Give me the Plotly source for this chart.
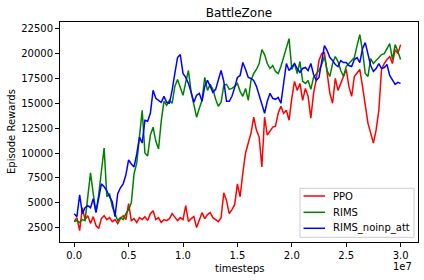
import plotly.graph_objects as go

# x grid: logged every 250k timesteps, 0 .. 3.0e7
timesteps = [i * 250_000 for i in range(121)]

ppo = [3100, 3500, 2200, 4500, 3300, 3700, 2900, 3600, 2700, 2400,
       3400, 3700, 3300, 3500, 3100, 3300, 2900, 3400, 3700, 3300,
       4900, 3200, 3400, 3000, 3500, 3300, 3600, 3200, 3900, 4200,
       3300, 3500, 3000, 3300, 3200, 3400, 3900, 3500, 3200, 3500,
       3300, 4700, 3100, 3400, 3600, 2500, 3300, 4000, 3400, 3800,
       4000, 3500, 3300, 3100, 3500, 6000, 5200, 3900, 4300, 4800,
       6900, 5600, 8000, 10000, 11000, 12000, 13600, 12300, 11600, 8600,
       13600, 11800, 12200, 12600, 12700, 14000, 14700, 14000, 14300, 13300,
       15500, 17200, 16300, 17000, 15300, 16500, 15700, 13500, 16000, 17400,
       19300, 20000, 20100, 18300, 16000, 15000, 17500, 16300, 17000, 17500,
       18400, 16700, 15700, 17700, 18000, 18400, 16700, 15000, 13000, 12000,
       11000, 12300, 14300, 18400, 19000, 19400, 19700, 19000, 20400, 20000,
       20900]

rims = [3100, 3200, 3000, 3300, 3200, 5500, 8000, 5900, 4100, 5800,
        8200, 10500, 5600, 5900, 4600, 3900, 3200, 3500, 3300, 3900,
        4300, 5000, 7900, 9000, 11500, 14300, 10000, 9700, 11800, 12600,
        11200, 10400, 13200, 15200, 14800, 15300, 15000, 16700, 17400, 16500,
        15800, 17100, 18300, 16100, 14800, 13600, 14500, 15300, 17600, 16300,
        16900, 16400, 15400, 14700, 15100, 16800, 16900, 16400, 16500, 16700,
        17000, 16200, 15700, 16500, 15300, 17300, 18000, 18400, 19000, 20400,
        19900, 19000, 18500, 18800, 18200, 18000, 18700, 19600, 20600, 21500,
        18400, 19000, 18000, 19200, 17200, 17000, 17300, 16400, 17600, 18000,
        18300, 18900, 19700, 18300, 17700, 19000, 19700, 19200, 18300, 17700,
        18700, 19000, 19300, 19600, 20800, 21900, 20300, 18000, 17700, 19500,
        19000, 19300, 19700, 19900, 20000, 20500, 21000, 19400, 20900, 20200,
        19400]

rims_noinp_att = [3900, 3600, 5800, 3900, 4500, 4700, 4500, 5400, 4000, 5300,
                  6900, 6600, 6200, 5600, 5100, 3600, 5900, 6500, 6900, 7800,
                  9300, 8900, 8600, 9900, 11600, 11000, 13300, 13200, 14000, 16300,
                  15500, 15300, 15100, 15700, 15100, 15000, 16300, 18000, 19600, 19900,
                  18000, 17600, 17000, 16100, 15100, 15800, 16000, 15200, 16700, 17300,
                  16600, 16100, 16400, 17400, 18300, 17200, 15200, 15200, 15700, 16600,
                  17600, 17800, 19100, 18400, 17600, 17500, 17300, 16700, 15900, 14900,
                  14000, 15200, 16000, 15500, 15400, 15600, 15000, 17200, 19000, 18300,
                  18600, 19000, 18500, 18100, 18500, 18600, 18300, 19000, 17900, 17300,
                  17600, 19300, 20800, 20300, 19600, 19300, 18900, 18700, 19300, 19100,
                  19100, 18800, 18700, 19400, 19600, 19100, 20500, 21100, 20000, 18800,
                  18200, 18500, 19000, 18500, 18600, 18900, 17800, 17300, 16900, 17100,
                  17000]

series_names = ["PPO", "RIMS", "RIMS_noinp_att"]
series_colors = ["#ff0000", "#008000", "#0000ff"]

x_tickvals = [0, 5_000_000, 10_000_000, 15_000_000, 20_000_000, 25_000_000, 30_000_000]
x_ticktext = ["0.0", "0.5", "1.0", "1.5", "2.0", "2.5", "3.0"]
y_tickvals = [2500, 5000, 7500, 10000, 12500, 15000, 17500, 20000, 22500]
y_ticktext = [str(v) for v in y_tickvals]

FONT = "DejaVu Sans"

# plot-area geometry in pixels (for converting legend placement to paper coords)
W, H = 424, 280
L, R, T, B = 60, 6, 22, 38
PW, PH = W - L - R, H - T - B


def px(xp):
    return (xp - L) / PW


def py(yp):
    return (H - B - yp) / PH


fig = go.Figure()
for name, ys, col in zip(series_names, [ppo, rims, rims_noinp_att], series_colors):
    fig.add_trace(go.Scatter(x=timesteps, y=ys, mode="lines", name=name,
                             line=dict(color=col, width=1.5), showlegend=False))

axis_common = dict(showline=True, linecolor="black", linewidth=1, mirror=True,
                   ticks="outside", ticklen=4, tickcolor="black", showgrid=False,
                   zeroline=False, tickfont=dict(family=FONT, size=10, color="black"))

# manual legend (matplotlib-style compact box)
shapes = [dict(type="rect", xref="paper", yref="paper",
               x0=px(300), x1=px(414), y0=py(237.3), y1=py(188.3),
               line=dict(color="#cccccc", width=1), fillcolor="rgba(255,255,255,0.8)",
               layer="above")]
annotations = []
row_y = [196, 212.3, 228.3]
for name, col, ry in zip(series_names, series_colors, row_y):
    shapes.append(dict(type="line", xref="paper", yref="paper",
                       x0=px(303.5), x1=px(325), y0=py(ry), y1=py(ry),
                       line=dict(color=col, width=1.5), layer="above"))
    annotations.append(dict(text=name, x=px(331), y=py(ry), xref="paper", yref="paper",
                            xanchor="left", yanchor="middle", showarrow=False,
                            font=dict(family=FONT, size=10, color="black")))

annotations += [
    dict(text="timesteps", x=0.5, y=py(268), xref="paper", yref="paper",
         xanchor="center", yanchor="middle", showarrow=False,
         font=dict(family=FONT, size=10, color="black")),
    dict(text="1e7", x=px(414), y=py(266.5), xref="paper", yref="paper",
         xanchor="right", yanchor="middle", showarrow=False,
         font=dict(family=FONT, size=10, color="black")),
    dict(text="Episode Rewards", x=px(11), y=0.5, xref="paper", yref="paper",
         xanchor="center", yanchor="middle", textangle=-90, showarrow=False,
         font=dict(family=FONT, size=10, color="black")),
]

fig.update_layout(
    width=W, height=H,
    margin=dict(l=L, r=R, t=T, b=B),
    paper_bgcolor="white", plot_bgcolor="white",
    font=dict(family=FONT, color="black"),
    title=dict(text="BattleZone", x=0.5, xref="paper", xanchor="center",
               y=1 - 12.5 / H, yref="container", yanchor="middle",
               font=dict(family=FONT, size=12, color="black")),
    xaxis=dict(range=[-1_305_000, 31_600_000], tickvals=x_tickvals, ticktext=x_ticktext,
               **axis_common),
    yaxis=dict(range=[1048, 23176], tickvals=y_tickvals, ticktext=y_ticktext,
               **axis_common),
    showlegend=False,
    hovermode=False,
    shapes=shapes,
    annotations=annotations,
)

fig.write_html("out.html", config={"displayModeBar": False},
               post_script="document.body.style.margin='0px';")
